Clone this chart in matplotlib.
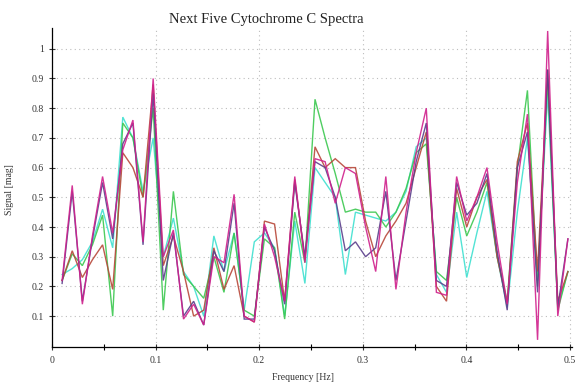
import numpy as np
import matplotlib
matplotlib.use("Agg")
import matplotlib.pyplot as plt
from matplotlib.ticker import MultipleLocator, FixedLocator

plt.rcParams['font.family'] = ['Liberation Serif', 'DejaVu Serif']

# Frequency bins (Hz)
freq = np.arange(1, 52) / 102.4

spec_magenta = [0.22, 0.54, 0.14, 0.37, 0.57, 0.38, 0.66, 0.76, 0.35, 0.90,
                0.30, 0.39, 0.09, 0.14, 0.07, 0.30, 0.28, 0.51, 0.10, 0.08,
                0.41, 0.30, 0.15, 0.57, 0.28, 0.63, 0.62, 0.48, 0.60, 0.58,
                0.40, 0.25, 0.57, 0.19, 0.45, 0.65, 0.80, 0.18, 0.17, 0.57,
                0.42, 0.50, 0.60, 0.35, 0.14, 0.55, 0.78, 0.02, 1.06, 0.10,
                0.36]
spec_purple = [0.21, 0.52, 0.15, 0.36, 0.55, 0.36, 0.68, 0.75, 0.34, 0.85,
               0.22, 0.38, 0.10, 0.15, 0.07, 0.32, 0.25, 0.48, 0.09, 0.09,
               0.40, 0.32, 0.14, 0.55, 0.30, 0.62, 0.60, 0.50, 0.32, 0.35,
               0.30, 0.33, 0.52, 0.22, 0.42, 0.62, 0.75, 0.22, 0.20, 0.55,
               0.44, 0.48, 0.58, 0.32, 0.12, 0.60, 0.72, 0.18, 0.93, 0.13,
               0.36]
spec_red = [0.22, 0.32, 0.23, 0.29, 0.34, 0.19, 0.65, 0.60, 0.50, 0.88,
            0.27, 0.37, 0.25, 0.10, 0.12, 0.33, 0.19, 0.27, 0.10, 0.08,
            0.42, 0.41, 0.15, 0.56, 0.29, 0.67, 0.60, 0.63, 0.60, 0.60,
            0.42, 0.30, 0.37, 0.42, 0.48, 0.60, 0.72, 0.20, 0.15, 0.53,
            0.40, 0.50, 0.56, 0.30, 0.14, 0.62, 0.75, 0.25, 0.93, 0.15,
            0.25]
spec_green = [0.22, 0.31, 0.27, 0.34, 0.44, 0.10, 0.75, 0.70, 0.50, 0.80,
              0.12, 0.52, 0.24, 0.20, 0.16, 0.30, 0.18, 0.38, 0.12, 0.10,
              0.36, 0.33, 0.09, 0.45, 0.28, 0.83, 0.70, 0.58, 0.45, 0.46,
              0.45, 0.45, 0.40, 0.45, 0.53, 0.65, 0.68, 0.25, 0.22, 0.50,
              0.37, 0.45, 0.55, 0.30, 0.15, 0.60, 0.86, 0.20, 0.90, 0.12,
              0.25]
spec_cyan = [0.24, 0.26, 0.29, 0.35, 0.46, 0.33, 0.77, 0.70, 0.52, 0.70,
             0.30, 0.43, 0.25, 0.20, 0.10, 0.37, 0.25, 0.38, 0.12, 0.35,
             0.38, 0.33, 0.10, 0.42, 0.21, 0.60, 0.55, 0.50, 0.24, 0.45,
             0.44, 0.43, 0.42, 0.45, 0.52, 0.67, 0.70, 0.24, 0.18, 0.45,
             0.23, 0.38, 0.52, 0.30, 0.13, 0.45, 0.70, 0.22, 0.85, 0.13,
             0.25]

series = [
    (spec_cyan, "#3fe0d0"),
    (spec_green, "#3cc850"),
    (spec_red, "#b8483a"),
    (spec_purple, "#5b3f8c"),
    (spec_magenta, "#d0208c"),
]

x_major = [0, 0.1, 0.2, 0.3, 0.4, 0.5]
x_labels = ["0", "0.1", "0.2", "0.3", "0.4", "0.5"]
y_major = [0.1, 0.2, 0.3, 0.4, 0.5, 0.6, 0.7, 0.8, 0.9, 1.0]
y_labels = ["0.1", "0.2", "0.3", "0.4", "0.5", "0.6", "0.7", "0.8", "0.9", "1"]

fig = plt.figure(figsize=(5.77, 3.84), dpi=100)
ax = fig.add_axes([52 / 577, 1 - 347 / 384, 520 / 577, (347 - 28) / 384])

for vals, col in series:
    ax.plot(freq, vals, color=col, lw=1.0, alpha=0.9, solid_joinstyle="miter")

ax.set_xlim(0, 0.502)
ax.set_ylim(-0.004, 1.07)

ax.xaxis.set_major_locator(FixedLocator(x_major))
ax.set_xticklabels(x_labels)
ax.xaxis.set_minor_locator(MultipleLocator(0.05))
ax.yaxis.set_major_locator(FixedLocator(y_major))
ax.set_yticklabels(y_labels)

ax.grid(True, which="major", color="#bdbdbd", linestyle=(0, (1, 3)), lw=0.8)
ax.set_axisbelow(True)

for s in ("top", "right"):
    ax.spines[s].set_visible(False)
ax.spines["left"].set_linewidth(0.9)
ax.spines["bottom"].set_linewidth(0.9)

ax.tick_params(axis="both", which="major", direction="inout", length=5,
               width=0.8, labelsize=7, colors="#333333")
ax.tick_params(axis="x", which="minor", direction="inout", length=4, width=0.8)
ax.tick_params(axis="x", pad=4)

fig.text(266 / 577, 1 - 20 / 384, "Next Five Cytochrome C Spectra",
         ha="center", va="center", fontsize=10.5, color="#222222")
fig.text(303 / 577, 1 - 378 / 384, "Frequency [Hz]",
         ha="center", va="center", fontsize=7, color="#333333")
fig.text(10 / 577, 1 - 190 / 384, "Signal [mag]", rotation=90,
         ha="center", va="center", fontsize=7, color="#333333")

fig.savefig("out.png", dpi=100)
